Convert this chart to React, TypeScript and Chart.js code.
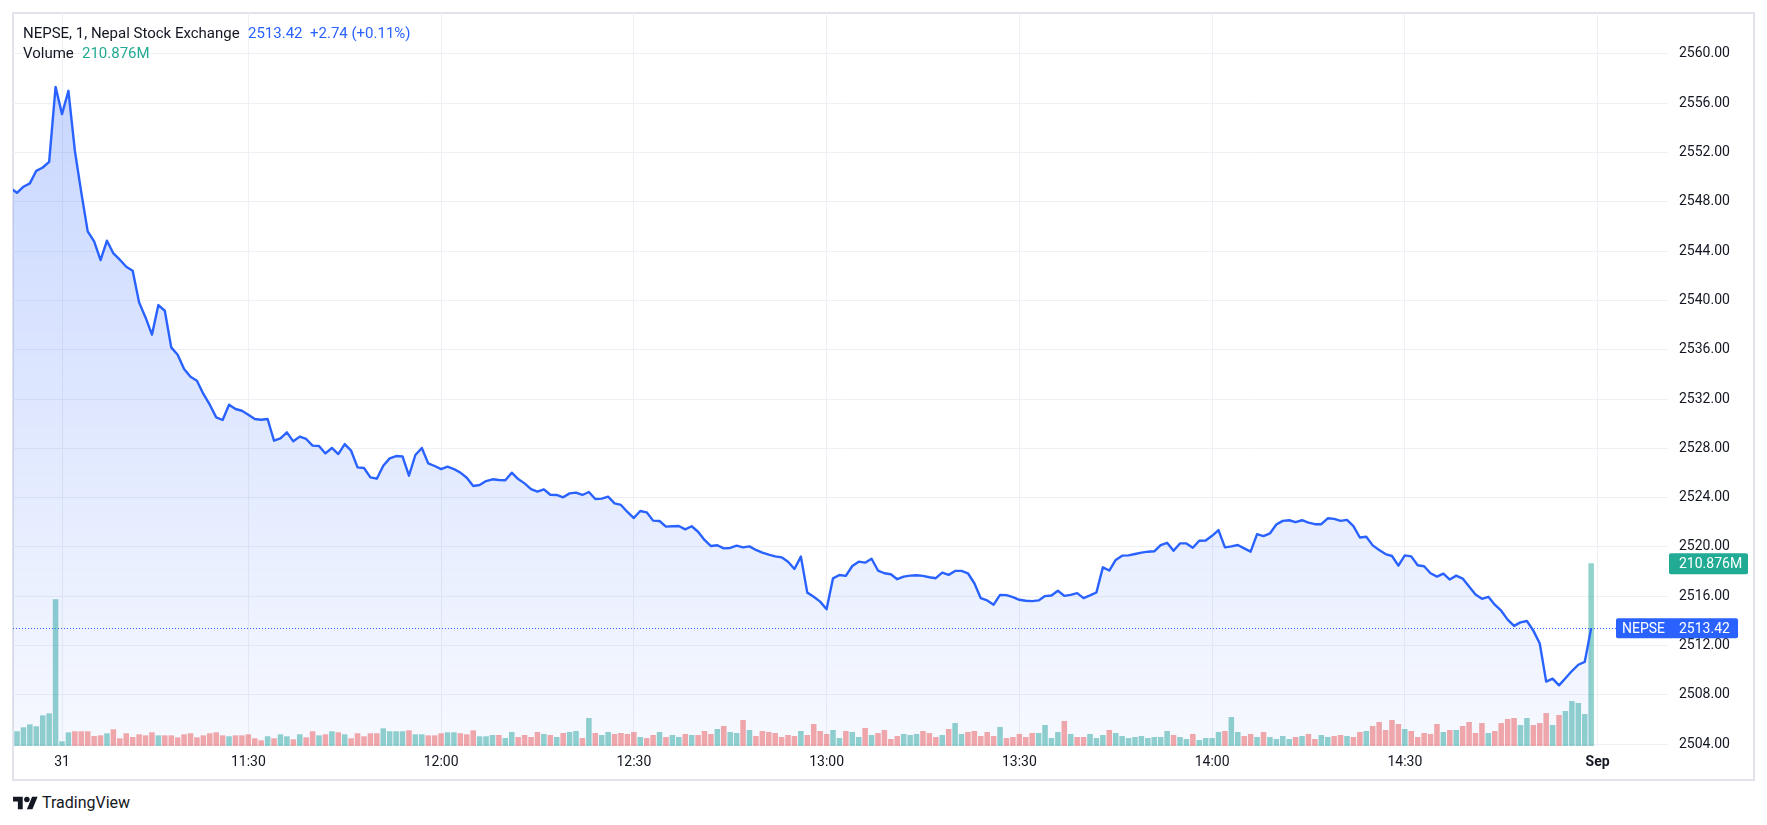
import React, { useEffect, useRef } from 'react';
import { Chart, registerables } from 'chart.js';

Chart.register(...registerables);

// ---------------- data ----------------
const SYMBOL = 'NEPSE';
const TITLE = 'NEPSE, 1, Nepal Stock Exchange';
const LAST_TEXT = '2513.42';
const CHANGE_TEXT = '+2.74 (+0.11%)';
const VOLUME_TITLE = 'Volume';

// bar number of the first value, counted from the "31" session mark
const FIRST_BAR = -8;

const X_TICK_BARS = [0, 29, 59, 89, 119, 149, 179, 209, 239];
const X_TICK_LABELS = ['31', '11:30', '12:00', '12:30', '13:00', '13:30', '14:00', '14:30', 'Sep'];
const BOLD_TICK_LABELS = ['Sep'];

const PRICE_TICKS = [2504, 2508, 2512, 2516, 2520, 2524, 2528, 2532, 2536, 2540, 2544, 2548, 2552, 2556, 2560];

const PRICE = [
  2549.10, 2548.73, 2549.22, 2549.49, 2550.51, 2550.78, 2551.24, 2557.32, 2555.11, 2557.00,
  2552.14, 2548.76, 2545.60, 2544.78, 2543.27, 2544.84, 2543.81, 2543.30, 2542.73, 2542.41,
  2539.84, 2538.62, 2537.22, 2539.62, 2539.16, 2536.19, 2535.59, 2534.43, 2533.81, 2533.49,
  2532.41, 2531.54, 2530.51, 2530.30, 2531.54, 2531.19, 2531.05, 2530.73, 2530.38, 2530.32,
  2530.38, 2528.62, 2528.81, 2529.30, 2528.57, 2528.95, 2528.76, 2528.22, 2528.19, 2527.59,
  2528.03, 2527.54, 2528.35, 2527.81, 2526.46, 2526.41, 2525.65, 2525.54, 2526.59, 2527.19,
  2527.38, 2527.35, 2525.78, 2527.46, 2528.03, 2526.78, 2526.57, 2526.32, 2526.51, 2526.32,
  2526.03, 2525.62, 2524.95, 2525.03, 2525.35, 2525.49, 2525.43, 2525.41, 2526.03, 2525.51,
  2525.16, 2524.70, 2524.49, 2524.68, 2524.24, 2524.22, 2524.03, 2524.35, 2524.41, 2524.22,
  2524.46, 2523.89, 2523.92, 2524.08, 2523.54, 2523.41, 2522.84, 2522.35, 2522.92, 2522.81,
  2522.14, 2522.11, 2521.65, 2521.68, 2521.70, 2521.43, 2521.68, 2521.24, 2520.57, 2520.08,
  2520.14, 2519.89, 2519.92, 2520.11, 2519.97, 2520.05, 2519.76, 2519.54, 2519.38, 2519.24,
  2519.16, 2518.81, 2518.22, 2519.22, 2516.30, 2515.97, 2515.57, 2514.95, 2517.46, 2517.73,
  2517.66, 2518.46, 2518.81, 2518.73, 2519.05, 2518.09, 2517.87, 2517.79, 2517.39, 2517.60,
  2517.68, 2517.71, 2517.66, 2517.55, 2517.47, 2517.92, 2517.74, 2518.06, 2518.06, 2517.87,
  2517.06, 2515.85, 2515.67, 2515.32, 2516.12, 2516.10, 2515.94, 2515.72, 2515.64, 2515.61,
  2515.67, 2516.02, 2516.07, 2516.45, 2516.04, 2516.12, 2516.26, 2515.85, 2516.07, 2516.31,
  2518.35, 2518.09, 2518.95, 2519.30, 2519.32, 2519.43, 2519.54, 2519.62, 2519.65, 2520.16,
  2520.34, 2519.70, 2520.29, 2520.29, 2519.94, 2520.51, 2520.53, 2520.91, 2521.37, 2519.97,
  2520.05, 2520.16, 2519.89, 2519.62, 2521.04, 2520.88, 2521.10, 2521.82, 2522.12, 2522.17,
  2522.01, 2522.17, 2521.98, 2521.85, 2521.85, 2522.33, 2522.28, 2522.12, 2522.20, 2521.69,
  2520.77, 2520.83, 2520.13, 2519.75, 2519.43, 2519.27, 2518.49, 2519.32, 2519.24, 2518.52,
  2518.44, 2517.87, 2517.60, 2517.84, 2517.36, 2517.68, 2517.44, 2516.80, 2516.15, 2515.80,
  2515.96, 2515.32, 2514.83, 2514.11, 2513.60, 2513.89, 2514.00, 2513.22, 2512.17, 2509.08,
  2509.32, 2508.78, 2509.35, 2509.94, 2510.45, 2510.68, 2513.42,
];

// volume in millions
const VOLUME = [
  null, 17.0, 21.6, 25.0, 22.7, 35.4, 37.7, 169.3, 5.4, 15.8,
  17.0, 17.0, 17.0, 11.5, 12.3, 14.7, 19.3, 8.9, 14.7, 10.4,
  13.5, 12.3, 15.8, 12.3, 12.3, 12.3, 10.0, 13.5, 14.7, 10.0,
  12.3, 14.7, 15.8, 12.3, 11.2, 12.3, 12.3, 13.5, 8.9, 6.6,
  11.2, 8.9, 13.5, 11.2, 7.7, 13.5, 10.0, 17.0, 12.3, 13.5,
  17.0, 15.8, 13.5, 8.9, 14.7, 11.2, 14.7, 14.7, 20.4, 17.0,
  17.0, 17.0, 18.1, 13.5, 13.5, 12.3, 12.3, 14.7, 15.8, 15.8,
  14.7, 13.5, 18.1, 11.2, 11.2, 12.7, 12.7, 9.2, 16.2, 10.4,
  12.7, 10.4, 16.2, 13.9, 12.7, 10.4, 15.0, 16.2, 17.3, 9.2,
  32.3, 15.0, 12.7, 16.2, 13.9, 15.0, 13.9, 16.2, 10.4, 9.2,
  12.7, 16.2, 10.4, 12.7, 10.4, 13.9, 12.7, 12.7, 17.3, 13.9,
  19.6, 23.1, 16.2, 15.0, 30.0, 18.5, 11.5, 17.3, 16.2, 15.0,
  10.4, 12.7, 11.5, 17.3, 12.7, 25.4, 17.3, 13.9, 18.5, 9.2,
  17.3, 16.2, 10.4, 20.8, 12.7, 15.0, 18.5, 8.1, 11.5, 13.9,
  12.7, 13.9, 17.3, 15.0, 10.4, 12.7, 19.6, 26.5, 13.9, 16.2,
  17.3, 11.5, 16.2, 11.5, 21.9, 9.2, 10.4, 13.9, 10.4, 15.0,
  15.0, 24.2, 9.2, 16.2, 28.9, 13.9, 10.4, 10.4, 13.9, 9.2,
  12.7, 18.5, 15.0, 11.5, 9.2, 10.4, 11.5, 9.2, 10.4, 10.4,
  17.3, 12.7, 10.4, 8.1, 13.9, 6.9, 9.2, 9.2, 16.2, 17.3,
  33.5, 16.2, 11.5, 13.9, 10.4, 16.2, 10.4, 8.1, 11.5, 8.1,
  10.4, 11.5, 13.9, 8.1, 12.7, 10.4, 11.5, 12.7, 11.5, 10.4,
  16.2, 17.3, 23.1, 27.7, 18.5, 30.0, 25.4, 19.6, 17.3, 10.4,
  15.0, 13.9, 25.4, 16.2, 18.5, 18.5, 23.1, 27.7, 15.0, 26.5,
  15.0, 17.3, 26.5, 31.2, 32.3, 24.2, 32.3, 24.2, 26.5, 38.1,
  24.2, 35.8, 40.4, 51.9, 49.6, 36.9, 210.876,
];

// u = up (green) bar, d = down (red) bar
const VOLUME_DIR = [
  '-uuuuuuuuu', 'dddddudddd', 'dddudddddd', 'dddduddddd', 'uduududdud',
  'ududdddduu', 'uuduuddduu', 'ddduuuduud', 'dddududuud', 'uduuddddud',
  'duduududdd', 'uduududddd', 'dddudddduu', 'duududdddu', 'uuddduduud',
  'dddduddddd', 'uuuududduu', 'uduuuuuuuu', 'uduuduuuud', 'uudduduuuu',
  'dudduuddud', 'dudddddudd', 'ddd' + 'udu' + 'dddd', 'udddduuddd', 'uduuuuu',
].join('').split('');

// ---------------- styles ----------------
const FONT = 'Roboto, "Noto Sans", sans-serif';
const TEXT = '#131722';
const BLUE = '#2962ff';
const TEAL = '#22ab94';
const GRID = '#eef0f5';
const UP_BAR = 'rgba(38, 166, 154, 0.5)';
const DOWN_BAR = 'rgba(239, 83, 80, 0.5)';
const VOLUME_AXIS_MAX = 846;

export default function App() {
  const canvasRef = useRef<HTMLCanvasElement>(null);

  useEffect(() => {
    document.body.style.margin = '0';
    document.body.style.background = '#ffffff';
    const canvas = canvasRef.current;
    if (!canvas) return;

    const lastIdx = PRICE.length - 1;
    const lastPrice = PRICE[lastIdx];
    const lastVolume = VOLUME[lastIdx] as number;
    const linePoints = PRICE.map((p, i) => ({ x: i + FIRST_BAR, y: p }));
    const volPoints = VOLUME.map((v, i) => ({ x: i + FIRST_BAR, y: v }));
    const barColors = VOLUME_DIR.map((d) => (d === 'd' ? DOWN_BAR : UP_BAR));

    const overlay = {
      id: 'tvOverlay',
      beforeDatasetsDraw(chart: any) {
        const { ctx, chartArea: a, scales } = chart;
        const y = Math.round(scales.y.getPixelForValue(lastPrice)) + 0.5;
        ctx.save();
        ctx.strokeStyle = BLUE;
        ctx.lineWidth = 1;
        ctx.setLineDash([1, 2]);
        ctx.beginPath();
        ctx.moveTo(a.left, y);
        ctx.lineTo(a.right, y);
        ctx.stroke();
        ctx.restore();
      },
      afterDraw(chart: any) {
        const { ctx, chartArea: a, scales } = chart;
        const box = (x: number, y: number, w: number, h: number, color: string) => {
          ctx.fillStyle = color;
          ctx.beginPath();
          if (ctx.roundRect) ctx.roundRect(x, y, w, h, 2);
          else ctx.rect(x, y, w, h);
          ctx.fill();
        };
        ctx.save();
        ctx.font = `14px ${FONT}`;
        ctx.textBaseline = 'middle';
        ctx.textAlign = 'left';
        const vy = scales.yv.getPixelForValue(lastVolume);
        box(a.right + 1, vy - 10, 79, 21, TEAL);
        ctx.fillStyle = '#ffffff';
        ctx.fillText(`${lastVolume.toFixed(3)}M`, a.right + 11, vy + 1);
        const py = scales.y.getPixelForValue(lastPrice);
        box(a.right - 52, py - 10, 122, 20, BLUE);
        ctx.fillStyle = '#ffffff';
        ctx.fillText(SYMBOL, a.right - 46, py + 1);
        ctx.fillText(lastPrice.toFixed(2), a.right + 11, py + 1);
        ctx.restore();
      },
    };

    const chart = new Chart(canvas, {
      type: 'line',
      data: {
        datasets: [
          {
            type: 'line',
            data: linePoints,
            yAxisID: 'y',
            borderColor: BLUE,
            borderWidth: 2.4,
            borderJoinStyle: 'round',
            pointRadius: 0,
            tension: 0,
            fill: 'start',
            order: 0,
            backgroundColor: (c: any) => {
              const area = c.chart.chartArea;
              if (!area) return 'rgba(41,98,255,0.15)';
              const g = c.chart.ctx.createLinearGradient(0, area.top, 0, area.bottom);
              g.addColorStop(0, 'rgba(41,98,255,0.28)');
              g.addColorStop(1, 'rgba(41,98,255,0.04)');
              return g;
            },
          } as any,
          {
            type: 'bar',
            data: volPoints,
            yAxisID: 'yv',
            backgroundColor: barColors,
            borderWidth: 0,
            categoryPercentage: 1,
            barPercentage: 0.86,
            order: 1,
          } as any,
        ],
      },
      options: {
        animation: false,
        responsive: false,
        maintainAspectRatio: false,
        events: [],
        layout: { padding: 0 },
        plugins: { legend: { display: false }, tooltip: { enabled: false } },
        scales: {
          x: {
            type: 'linear',
            offset: false,
            min: -7.627,
            max: 249.96,
            afterBuildTicks: (s: any) => {
              s.ticks = X_TICK_BARS.map((v) => ({ value: v }));
            },
            afterFit: (s: any) => {
              s.height = 34;
              s.paddingLeft = 0;
              s.paddingRight = 0;
            },
            ticks: {
              autoSkip: false,
              maxRotation: 0,
              padding: 8,
              color: TEXT,
              font: (c: any) => ({
                family: FONT,
                size: 14,
                weight: BOLD_TICK_LABELS.includes(X_TICK_LABELS[c.index]) ? 'bold' : 'normal',
              }),
              callback: (_v: any, i: number) => X_TICK_LABELS[i],
            },
            grid: { color: GRID, drawTicks: false, offset: false },
            border: { display: false },
          },
          y: {
            type: 'linear',
            position: 'right',
            min: 2503.86,
            max: 2563.31,
            afterBuildTicks: (s: any) => {
              s.ticks = PRICE_TICKS.map((v) => ({ value: v }));
            },
            afterFit: (s: any) => {
              s.width = 86;
              s.paddingTop = 0;
              s.paddingBottom = 0;
            },
            ticks: {
              padding: 11,
              color: TEXT,
              font: { family: FONT, size: 14 },
              callback: (v: any) => Number(v).toFixed(2),
            },
            grid: { color: GRID, drawTicks: false },
            border: { display: false },
          },
          yv: { type: 'linear', display: false, min: 0, max: VOLUME_AXIS_MAX },
        },
      } as any,
      plugins: [overlay],
    });
    return () => chart.destroy();
  }, []);

  const txt = (left: number, cy: number, color: string, s: string, size = 15, weight = 400) => (
    <div
      style={{
        position: 'absolute',
        left,
        top: cy - 10,
        height: 20,
        lineHeight: '20px',
        fontFamily: FONT,
        fontSize: size,
        fontWeight: weight,
        color,
        whiteSpace: 'nowrap',
      }}
    >
      {s}
    </div>
  );

  return (
    <div style={{ position: 'relative', width: 1767, height: 825, background: '#ffffff', overflow: 'hidden' }}>
      <div
        style={{
          position: 'absolute',
          left: 12,
          top: 12,
          width: 1743,
          height: 769,
          boxSizing: 'border-box',
          border: '2px solid #e0e3eb',
        }}
      />
      <canvas
        ref={canvasRef}
        width={1741}
        height={767}
        style={{ position: 'absolute', left: 13, top: 13, width: 1741, height: 767 }}
      />
      {txt(23, 33, TEXT, TITLE)}
      {txt(248, 33, BLUE, LAST_TEXT)}
      {txt(310, 33, BLUE, CHANGE_TEXT)}
      {txt(23, 53, TEXT, VOLUME_TITLE)}
      {txt(82, 53, TEAL, '210.876M')}
      <svg
        width={25}
        height={19.4}
        viewBox="0 0 36 28"
        style={{ position: 'absolute', left: 12.7, top: 793.9 }}
      >
        <path d="M14 22H7V11H0V4h14v18zM28 22h-8l7.5-18h8L28 22z" fill={TEXT} />
        <circle cx="20" cy="8" r="4" fill={TEXT} />
      </svg>
      {txt(42, 803, TEXT, 'TradingView', 16)}
    </div>
  );
}
